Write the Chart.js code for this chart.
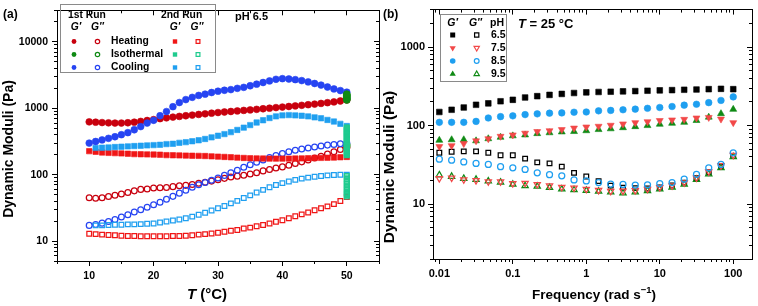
<!DOCTYPE html>
<html><head><meta charset="utf-8">
<script src="https://cdn.jsdelivr.net/npm/chart.js@4.4.1/dist/chart.umd.min.js"></script>
<style>
html,body{margin:0;padding:0;background:#fff;width:758px;height:306px;overflow:hidden}
.w{position:absolute;top:0;height:306px}
</style></head><body>
<div class="w" style="left:0;width:380px"><canvas id="ca"></canvas></div>
<div class="w" style="left:380px;width:378px"><canvas id="cb"></canvas></div>
<script>
const FF = "'Liberation Sans', Arial, Helvetica, sans-serif";

// ---------- Panel (a): temperature sweeps, pH 6.5 ----------
const aTemp = [10,11,12,13,14,15,16,17,18,19,20,21,22,23,24,25,26,27,28,29,30,31,32,33,34,35,36,37,38,39,40,41,42,43,44,45,46,47,48,49,50];
const aTempCool2 = [11,12,13,14,15,16,17,18,19,20,21,22,23,24,25,26,27,28,29,30,31,32,33,34,35,36,37,38,39,40,41,42,43,44,45,46,47,48,49,50];
const aIsoTemp = 50;
// 1st run
const aHeat1G1 = [625,618,610,604,600,600,606,618,635,655,676,698,718,737,755,773,790,808,826,845,864,880,896,913,930,946,965,985,1005,1025,1045,1065,1087,1110,1133,1157,1185,1215,1250,1290,1337];
const aHeat1G2 = [45,44,45,47,49,51,54,57,60,61,63,63.5,64,66,68,69,71,74,77,80,84,88,92,95,98,102,107,114,120,126,131,139,147,156,166,178,190,205,222,240,255];
const aIso1G1 = [1335,1362,1390,1418,1450,1478,1512,1545,1575,1610,1640];
const aIso1G2 = [262,270,279,288];
const aCool1G1 = [299,316,334,353,373,400,430,475,530,600,660,773,894,1057,1222,1353,1463,1564,1636,1730,1810,1871,1913,2000,2069,2188,2313,2448,2588,2737,2798,2767,2705,2617,2502,2366,2240,2094,1958,1850,1750];
const aCool1G2 = [17.2,17.8,18.6,19.7,21.1,23,24.9,27.3,29.5,32.2,35.2,38.5,42.6,47.1,52.7,58.3,64.5,70.5,76.3,82.5,89.2,97.5,106.6,116.7,129,141,154,167,181,195,209,221,234,244,253,261,270,279,285,292,299];
// 2nd run
const aHeat2G1 = [226,221,216,213,211,209,207,204,203,202,201,200,197,196,195,194,193,192,191,189,187,185,183,180.5,178.6,176.6,176,175,174.6,174.5,174.5,174.5,175,176,177,178.6,179,180,181,183,185];
const aHeat2G2 = [12.9,12.7,12.5,12.3,12.2,12,11.9,11.9,11.8,11.8,11.8,11.8,11.8,11.9,11.9,12,12.2,12.5,12.7,13,13.3,13.8,14.3,14.7,15.4,15.9,16.7,17.4,18.4,19.5,20.6,22.1,23.6,25.2,26.9,29.1,31.2,33.3,36,40,46];
const aIso2G1 = [196,205,214,224,235,246,258,270,283,296,310,324,339,354,370,386,403,420,438,457,476,496,516];
const aIso2G2 = [47,49,51,53,56,59,62,65,69,73,77,81,86,91,96];
const aCool2G1 = [253,255,257,261,264,267,270,273,276,279,282,289,292,302,309,319,330,345,365,386,409,437,472,511,559,611,661,714,756,782,791,782,773,756,731,707,668,632,584,541];
const aCool2G2 = [17.2,17.2,17.4,17.6,17.6,17.8,17.8,18,18.2,18.4,19,19.7,20.4,21.1,22.1,23.3,24.9,26.7,28.8,31.2,33.7,36.9,40.3,44.6,48.8,54,59,64.6,69.8,74.6,78.9,83.4,87.3,90.2,93.3,95.5,97.6,98.6,99.8,100];
const aXMajor = [10,20,30,40,50];
const aXMinor = [5,10,15,20,25,30,35,40,45,50,55];
const aYMajor = [10,100,1000,10000];

// ---------- Panel (b): frequency sweeps, T = 25 °C ----------
const bFreq = [0.01,0.0147,0.0215,0.0316,0.0464,0.0681,0.1,0.147,0.215,0.316,0.464,0.681,1,1.47,2.15,3.16,4.64,6.81,10,14.7,21.5,31.6,46.4,68.1,100];
const bPH65G1 = [149,159,170,184,192,204,213,228,237,246,253,260,265,268,270,273,275,278,281,283,286,288,291,294,291];
const bPH65G2 = [45,46.5,47,47,45,42,42,38,34,33,30,25,22.5,19.6,17.2,16.2,16,15.8,16.3,17.3,18.8,21.5,25.5,30,41];
const bPH75G1 = [54,55.5,59,64,68,73,76,80,84,86,89,93,96,98,101,105,109,112,116,118,120,125,127,121,109];
const bPH75G2 = [21.2,21.6,20.5,20,19.3,19.3,18.3,18.5,17.8,17.2,16.4,16.1,15.5,15,14.6,14.7,14.9,15.5,16.3,17.2,18.8,21.6,25.9,31,42];
const bPH85G1 = [110,110,110,113,125,130,133,138,141,144,145,148,149,154,156,159,162,166,170,175,182,187,196,209,232];
const bPH85G2 = [37.4,36.3,34.5,33,32,30,29,27.6,25,23.7,22.9,20.3,19.7,18.8,18,17.8,17.5,17.6,18.3,18.8,20.8,24,29,32,45];
const bPH95G1 = [65,66,66,64,68,71,74,76,79,81,83,84,86,89,91,94,97,100,104,107,110,116,128,142,161];
const bPH95G2 = [23.5,22.5,21.2,20.6,19.6,19,17.8,17.1,16.8,16.2,15.5,15.2,14.9,14.5,14.2,13.8,14.2,14.8,15.5,16.4,17.8,20.6,24.1,29,40];
const bXMajor = [0.01,0.1,1,10,100];
const bYMajor = [10,100,1000];

// ---------- helpers ----------
function logMinor(min, max) {
  const out = [];
  for (let e = Math.floor(Math.log10(min)); e <= Math.ceil(Math.log10(max)); e++)
    for (let k = 1; k <= 9; k++) {
      const v = +(k * Math.pow(10, e)).toPrecision(6);
      if (v >= min * 0.9999 && v <= max * 1.0001) out.push(v);
    }
  return out;
}
function pts(xs, ys) { return ys.map((y, i) => ({x: Array.isArray(xs) ? xs[i] : xs, y})); }
function ds(label, data, color, style, filled, r, rot) {
  return {label, data, showLine: false, pointStyle: style, pointRadius: r, pointHoverRadius: r,
    pointRotation: rot || 0,
    pointBackgroundColor: filled ? color : 'rgba(255,255,255,0)', pointBorderColor: color,
    pointBorderWidth: filled ? 0.6 : 1.25};
}
function scale(o) {
  return {
    type: o.type, axis: o.axis, position: o.pos, min: o.min, max: o.max, weight: o.weight || 0,
    grid: {display: true, drawOnChartArea: false, drawTicks: true, tickLength: o.len, color: '#000', lineWidth: 1},
    border: {display: true, color: '#000', width: 1},
    ticks: {display: !!o.labels, color: '#000', font: {family: FF, weight: 'bold', size: o.fs || 11},
      padding: o.pad || 3, autoSkip: false, maxRotation: 0, minRotation: 0, callback: v => String(v)},
    afterBuildTicks: sc => { sc.ticks = o.vals.map(v => ({value: v})); },
    afterFit: sc => { if (sc.isHorizontal()) sc.height = o.size; else sc.width = o.size; }
  };
}
function axesSet(X, Y) {
  return {
    x:   scale({type: X.type, axis: 'x', pos: 'bottom', min: X.min, max: X.max, vals: X.major, labels: true, len: 5, size: X.size, fs: X.fs, pad: X.pad}),
    xm:  scale({type: X.type, axis: 'x', pos: 'bottom', min: X.min, max: X.max, vals: X.minor, len: 3, size: 0, weight: -1}),
    xt:  scale({type: X.type, axis: 'x', pos: 'top', min: X.min, max: X.max, vals: X.major, len: -5, size: 0}),
    xtm: scale({type: X.type, axis: 'x', pos: 'top', min: X.min, max: X.max, vals: X.minor, len: -3, size: 0, weight: -1}),
    y:   scale({type: Y.type, axis: 'y', pos: 'left', min: Y.min, max: Y.max, vals: Y.major, labels: true, len: 5, size: Y.size, fs: Y.fs, pad: Y.pad}),
    ym:  scale({type: Y.type, axis: 'y', pos: 'left', min: Y.min, max: Y.max, vals: Y.minor, len: 3, size: 0, weight: -1}),
    yr:  scale({type: Y.type, axis: 'y', pos: 'right', min: Y.min, max: Y.max, vals: Y.major, len: -5, size: 0}),
    yrm: scale({type: Y.type, axis: 'y', pos: 'right', min: Y.min, max: Y.max, vals: Y.minor, len: -3, size: 0, weight: -1})
  };
}
function font(size, it) { return (it ? 'italic ' : '') + 'bold ' + size + 'px ' + FF; }
function runs(ctx, parts, x, y, align, size) {
  const fs = parts.map(p => p[1] === 'sup' ? font(size * 0.7) : font(size, p[1] === 'i'));
  const ws = parts.map((p, i) => { ctx.font = fs[i]; return ctx.measureText(p[0]).width; });
  const w = ws.reduce((a, b) => a + b, 0);
  let cx = align === 'center' ? x - w / 2 : align === 'right' ? x - w : x;
  ctx.textAlign = 'left'; ctx.textBaseline = 'middle'; ctx.fillStyle = '#000';
  parts.forEach((p, i) => { ctx.font = fs[i]; ctx.fillText(p[0], cx, p[1] === 'sup' ? y - size * 0.32 : y); cx += ws[i]; });
}
function vrun(ctx, parts, x, y, size) {
  ctx.save(); ctx.translate(x, y); ctx.rotate(-Math.PI / 2); runs(ctx, parts, 0, 0, 'center', size); ctx.restore();
}
function marker(ctx, style, x, y, r, color, filled, rot) {
  ctx.save();
  ctx.fillStyle = color; ctx.strokeStyle = color; ctx.lineWidth = 1.2;
  ctx.beginPath();
  if (style === 'circle') ctx.arc(x, y, r, 0, Math.PI * 2);
  else if (style === 'rect') ctx.rect(x - r, y - r, 2 * r, 2 * r);
  else {
    let a = (rot || 0) * Math.PI / 180;
    for (let k = 0; k < 3; k++) { const px = x + Math.sin(a) * r, py = y - Math.cos(a) * r; k ? ctx.lineTo(px, py) : ctx.moveTo(px, py); a += 2 * Math.PI / 3; }
    ctx.closePath();
  }
  if (filled) ctx.fill(); else ctx.stroke();
  ctx.restore();
}

// ---------- colours ----------
const cHeat1 = '#c8000e', cIso1 = '#0f8a14', cCool1 = '#2644f2';
const cHeat2 = '#f01616', cIso2 = '#1fcb8e', cCool2 = '#1f9ff0';
const c65 = '#000000', c75 = '#f24848', c85 = '#1e9ff0', c95 = '#0f8a14';

// ---------- chart (a) ----------
const dA = [
  ds('Isothermal G″ 1st', pts(aIsoTemp, aIso1G2), cIso1, 'circle', false, 2.9),
  ds('Heating G″ 1st', pts(aTemp, aHeat1G2), cHeat1, 'circle', false, 2.9),
  ds('Cooling G″ 1st', pts(aTemp, aCool1G2), cCool1, 'circle', false, 2.9),
  ds('Heating G″ 2nd', pts(aTemp, aHeat2G2), cHeat2, 'rect', false, 3.3),
  ds('Cooling G″ 2nd', pts(aTempCool2, aCool2G2), cCool2, 'rect', false, 3.3),
  ds('Isothermal G″ 2nd', pts(aIsoTemp, aIso2G2), cIso2, 'rect', false, 3.3),
  ds('Heating G′ 2nd', pts(aTemp, aHeat2G1), cHeat2, 'rect', true, 3.8),
  ds('Cooling G′ 2nd', pts(aTempCool2, aCool2G1), cCool2, 'rect', true, 3.8),
  ds('Isothermal G′ 2nd', pts(aIsoTemp, aIso2G1), cIso2, 'rect', true, 3.8),
  ds('Heating G′ 1st', pts(aTemp, aHeat1G1), cHeat1, 'circle', true, 3.4),
  ds('Cooling G′ 1st', pts(aTemp, aCool1G1), cCool1, 'circle', true, 3.4),
  ds('Isothermal G′ 1st', pts(aIsoTemp, aIso1G1), cIso1, 'circle', true, 3.4)
];
dA.forEach((d, i) => { d.order = dA.length - i; d.xAxisID = 'x'; d.yAxisID = 'y'; });

const decorA = {
  id: 'decorA',
  afterDraw(chart) {
    const ctx = chart.ctx;
    ctx.save();
    runs(ctx, [['(a)']], 3, 15, 'left', 12);
    runs(ctx, [['pH 6.5']], 235, 17, 'left', 11);
    ctx.strokeStyle = '#8a8a8a'; ctx.lineWidth = 1;
    ctx.strokeRect(60.5, 4.5, 155, 68);
    runs(ctx, [['1st Run']], 68, 15, 'left', 10.3);
    runs(ctx, [['2nd Run']], 161, 15, 'left', 10.3);
    runs(ctx, [['G′', 'i']], 76, 27.5, 'center', 10.3);
    runs(ctx, [['G″', 'i']], 97.5, 27.5, 'center', 10.3);
    runs(ctx, [['G′', 'i']], 175, 27.5, 'center', 10.3);
    runs(ctx, [['G″', 'i']], 197, 27.5, 'center', 10.3);
    const rows = [['Heating', cHeat1, cHeat2, 41.5], ['Isothermal', cIso1, cIso2, 54.5], ['Cooling', cCool1, cCool2, 67.5]];
    rows.forEach(r => {
      marker(ctx, 'circle', 74, r[3], 2.4, r[1], true);
      marker(ctx, 'circle', 97.5, r[3], 2.2, r[1], false);
      runs(ctx, [[r[0]]], 111, r[3], 'left', 10.3);
      marker(ctx, 'rect', 175, r[3], 2.2, r[2], true);
      marker(ctx, 'rect', 198, r[3], 1.9, r[2], false);
    });
    vrun(ctx, [['Dynamic Moduli (Pa)']], 9.5, 149, 14);
    runs(ctx, [['T', 'i'], [' (°C)']], 207, 295, 'center', 15);
    ctx.restore();
  }
};

new Chart(document.getElementById('ca'), {
  type: 'scatter',
  data: {datasets: dA},
  options: {
    responsive: true, maintainAspectRatio: false, animation: false, events: [],
    layout: {autoPadding: false, padding: {top: 3, right: 1, left: 0, bottom: 0}},
    plugins: {legend: {display: false}, tooltip: {enabled: false}},
    scales: axesSet(
      {type: 'linear', min: 5, max: 55, major: aXMajor, minor: aXMinor, size: 45, fs: 10.5, pad: 4},
      {type: 'logarithmic', min: 5, max: 30000, major: aYMajor, minor: logMinor(5, 30000), size: 57, fs: 10.5, pad: 4})
  },
  plugins: [decorA]
});

// ---------- chart (b) ----------
const dB = [
  ds('pH 6.5 G″', pts(bFreq, bPH65G2), c65, 'rect', false, 3.3),
  ds('pH 9.5 G″', pts(bFreq, bPH95G2), c95, 'triangle', false, 3.6),
  ds('pH 7.5 G″', pts(bFreq, bPH75G2), c75, 'triangle', false, 3.6, 180),
  ds('pH 8.5 G″', pts(bFreq, bPH85G2), c85, 'circle', false, 3.0),
  ds('pH 6.5 G′', pts(bFreq, bPH65G1), c65, 'rect', true, 4.0),
  ds('pH 8.5 G′', pts(bFreq, bPH85G1), c85, 'circle', true, 3.3),
  ds('pH 9.5 G′', pts(bFreq, bPH95G1), c95, 'triangle', true, 4.0),
  ds('pH 7.5 G′', pts(bFreq, bPH75G1), c75, 'triangle', true, 4.0, 180)
];
dB.forEach((d, i) => { d.order = dB.length - i; d.xAxisID = 'x'; d.yAxisID = 'y'; });

const decorB = {
  id: 'decorB',
  afterDraw(chart) {
    const ctx = chart.ctx;
    ctx.save();
    runs(ctx, [['(b)']], 3, 15, 'left', 12);
    runs(ctx, [['T', 'i'], [' = 25 °C']], 138, 24, 'left', 13);
    ctx.strokeStyle = '#8a8a8a'; ctx.lineWidth = 1;
    ctx.strokeRect(60.5, 14.5, 66, 67);
    runs(ctx, [['G′', 'i']], 72.7, 23, 'center', 10.5);
    runs(ctx, [['G″', 'i']], 95.5, 23, 'center', 10.5);
    runs(ctx, [['pH']], 117, 23, 'center', 10.5);
    const rows = [['6.5', c65, 'rect', 0, 35], ['7.5', c75, 'triangle', 180, 48], ['8.5', c85, 'circle', 0, 61], ['9.5', c95, 'triangle', 0, 74]];
    rows.forEach(r => {
      const rf = r[2] === 'rect' ? 2.5 : r[2] === 'circle' ? 2.8 : 3.6;
      marker(ctx, r[2], 72.7, r[4], rf, r[1], true, r[3]);
      marker(ctx, r[2], 96.7, r[4], rf * 0.85, r[1], false, r[3]);
      runs(ctx, [[r[0]]], 111, r[4], 'left', 10.5);
    });
    vrun(ctx, [['Dynamic Moduli (Pa)']], 9.5, 167, 15.5);
    runs(ctx, [['Frequency (rad s'], ['−1', 'sup'], [')']], 214, 295, 'center', 13.5);
    ctx.restore();
  }
};

new Chart(document.getElementById('cb'), {
  type: 'scatter',
  data: {datasets: dB},
  options: {
    responsive: true, maintainAspectRatio: false, animation: false, events: [],
    layout: {autoPadding: false, padding: {top: 2, right: 6, left: 0, bottom: 0}},
    plugins: {legend: {display: false}, tooltip: {enabled: false}},
    scales: axesSet(
      {type: 'logarithmic', min: 0.0082, max: 180, major: bXMajor, minor: logMinor(0.0082, 180), size: 47, fs: 11, pad: 3},
      {type: 'logarithmic', min: 2, max: 3000, major: bYMajor, minor: logMinor(2, 3000), size: 53, fs: 11, pad: 3})
  },
  plugins: [decorB]
});
</script>
</body></html>
